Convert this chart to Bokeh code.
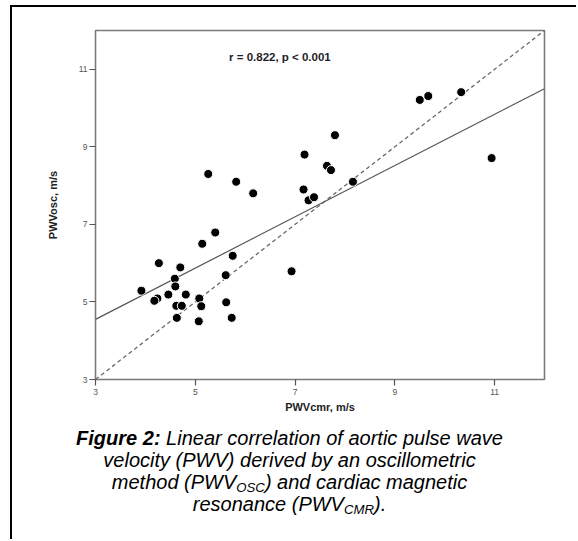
from bokeh.plotting import figure
from bokeh.layouts import column, row
from bokeh.models import Range1d, FixedTicker, Label
from bokeh.embed import file_html
from bokeh.resources import INLINE

# ---------------- data ----------------
pwv_cmr = [5.26, 5.82, 6.16, 7.19, 7.17, 7.27, 7.38, 9.50, 9.67, 10.33,
           7.80, 7.64, 7.72, 10.94, 8.16, 5.40, 5.14, 5.75, 4.27, 4.70,
           6.93, 5.61, 4.59, 3.92, 4.60, 4.46, 4.81, 4.24, 4.18, 5.08,
           5.62, 4.62, 4.73, 5.12, 4.63, 5.73, 5.07]
pwv_osc = [8.30, 8.10, 7.80, 8.80, 7.90, 7.62, 7.70, 10.21, 10.31, 10.41,
           9.30, 8.51, 8.40, 8.71, 8.10, 6.79, 6.50, 6.19, 6.00, 5.89,
           5.79, 5.69, 5.60, 5.29, 5.40, 5.19, 5.19, 5.09, 5.03, 5.09,
           4.99, 4.90, 4.90, 4.89, 4.59, 4.59, 4.50]
fit_x = [3.0, 12.0]
fit_y = [4.55, 10.50]
identity_x = [3.0, 12.0]
identity_y = [3.0, 12.0]
x_ticks = [3, 5, 7, 9, 11]
y_ticks = [3, 5, 7, 9, 11]
stat_text = "r = 0.822, p < 0.001"
x_title = "PWVcmr, m/s"
y_title = "PWVosc, m/s"
caption_lines = [
    [("Figure 2:", "bold italic", 1.0, 0.0), (" Linear correlation of aortic pulse wave", "italic", 1.0, 0.0)],
    [("velocity (PWV) derived by an oscillometric", "italic", 1.0, 0.0)],
    [("method (PWV", "italic", 1.0, 0.0), ("OSC", "italic", 0.66, 0.3), (") and cardiac magnetic", "italic", 1.0, 0.0)],
    [("resonance (PWV", "italic", 1.0, 0.0), ("CMR", "italic", 0.66, 0.3), (").", "italic", 1.0, 0.0)],
]

FONT = "Liberation Sans"
X0, X1, Y0, Y1 = 3.0, 12.0, 3.0, 12.0
FW, FH = 447, 347
OX, OY = 12, 7            # page position of the chart canvas
BL, BR, BT, BB = 83, 34, 23, 40
PW = BL + FW + BR
PH = BT + FH + BB

p = figure(frame_width=FW, frame_height=FH,
           x_range=Range1d(X0, X1), y_range=Range1d(Y0, Y1),
           output_backend="svg", toolbar_location=None,
           min_border_left=BL, min_border_right=BR,
           min_border_top=BT, min_border_bottom=BB)
p.styles = {"border-left": "2px solid black", "border-top": "2px solid black"}
p.background_fill_color = "white"
p.border_fill_color = "white"
p.outline_line_color = "#7a7a7a"
p.outline_line_width = 1.6
p.xgrid.visible = False
p.ygrid.visible = False

for ax in (p.xaxis[0], p.yaxis[0]):
    ax.axis_line_color = None
    ax.major_tick_line_color = "#555555"
    ax.major_tick_line_width = 1.2
    ax.major_tick_in = 0
    ax.major_tick_out = 6
    ax.minor_tick_line_color = None
    ax.major_label_text_font = FONT
    ax.major_label_text_font_size = "8.5px"
    ax.major_label_text_color = "#555555"
    ax.axis_label_text_font = FONT
    ax.axis_label_text_font_size = "11px"
    ax.axis_label_text_font_style = "bold"
    ax.axis_label_text_color = "#222222"

p.xaxis[0].ticker = FixedTicker(ticks=x_ticks)
p.yaxis[0].ticker = FixedTicker(ticks=y_ticks)
p.xaxis[0].axis_label = x_title
p.yaxis[0].axis_label = y_title
p.xaxis[0].major_label_standoff = 3
p.xaxis[0].axis_label_standoff = 3
p.yaxis[0].major_label_standoff = 2
p.yaxis[0].axis_label_standoff = 17

p.line(identity_x, identity_y, line_color="#6a6a6a", line_width=1.3, line_dash="4 3")
p.line(fit_x, fit_y, line_color="#555555", line_width=1.2)
p.scatter(pwv_cmr, pwv_osc, size=9, fill_color="black", line_color="white", line_width=1)


def to_data(px, py):
    fx = px - OX - BL
    fy = py - OY - BT
    return X0 + fx * (X1 - X0) / FW, Y1 - fy * (Y1 - Y0) / FH


sx, sy = to_data(228, 56)
p.add_layout(Label(x=sx, y=sy, text=stat_text, text_font=FONT, text_font_size="11.5px",
                   text_font_style="bold", text_color="#1e1e2a", text_baseline="middle",
                   text_align="left"))

# ---------------- caption panel ----------------
CAP_TOP = OY + PH          # page y where the caption panel starts
CH = 122
cap = figure(width=PW, height=CH, x_range=Range1d(0, PW), y_range=Range1d(CH, 0),
             output_backend="svg", toolbar_location=None,
             x_axis_location=None, y_axis_location=None,
             min_border=0, min_border_left=0, min_border_right=0,
             min_border_top=0, min_border_bottom=0)
cap.styles = {"border-left": "2px solid black"}
cap.outline_line_color = None
cap.xgrid.visible = False
cap.ygrid.visible = False
cap.background_fill_color = "white"
cap.border_fill_color = "white"

# Arial / Liberation Sans advance widths (per 1000 em)
REG = {' ': 278, '(': 333, ')': 333, '.': 278, ':': 278, ',': 278,
       'A': 667, 'C': 722, 'M': 833, 'O': 778, 'P': 667, 'R': 722, 'S': 667, 'V': 667, 'W': 944, 'F': 611, 'L': 556,
       'a': 556, 'b': 556, 'c': 500, 'd': 556, 'e': 556, 'f': 278, 'g': 556, 'h': 556, 'i': 222, 'j': 222,
       'k': 500, 'l': 222, 'm': 833, 'n': 556, 'o': 556, 'p': 556, 'q': 556, 'r': 333, 's': 500, 't': 278,
       'u': 556, 'v': 500, 'w': 722, 'x': 500, 'y': 500, 'z': 500, '2': 556}
BOLD = {'F': 611, 'i': 278, 'g': 611, 'u': 611, 'r': 389, 'e': 556, ' ': 278, '2': 556, ':': 333}


def run_width(text, style, size):
    tab = BOLD if "bold" in style else REG
    return sum(tab.get(ch, 556) for ch in text) / 1000.0 * size


CAP_FS = 20.0
CAP_CX = 289
cap_y = [437, 459, 481, 503]
for line, py in zip(caption_lines, cap_y):
    total = sum(run_width(t, s, CAP_FS * k) for t, s, k, d in line)
    cx = CAP_CX - total / 2.0
    for t, s, k, d in line:
        fs = CAP_FS * k
        stripped = t.lstrip(" ")
        lead = run_width(t[:len(t) - len(stripped)], s, fs)
        cap.add_layout(Label(x=cx + lead - OX, y=py + d * CAP_FS - CAP_TOP,
                             text=stripped, text_font=FONT, text_font_size=f"{fs:.1f}px",
                             text_font_style=s, text_color="black", text_baseline="middle",
                             text_align="left"))
        cx += run_width(t, s, fs)

layout = column(row(p), row(cap), spacing=0, margin=(5, 0, 0, 10))
open("out.html", "w").write(file_html(layout, INLINE))
